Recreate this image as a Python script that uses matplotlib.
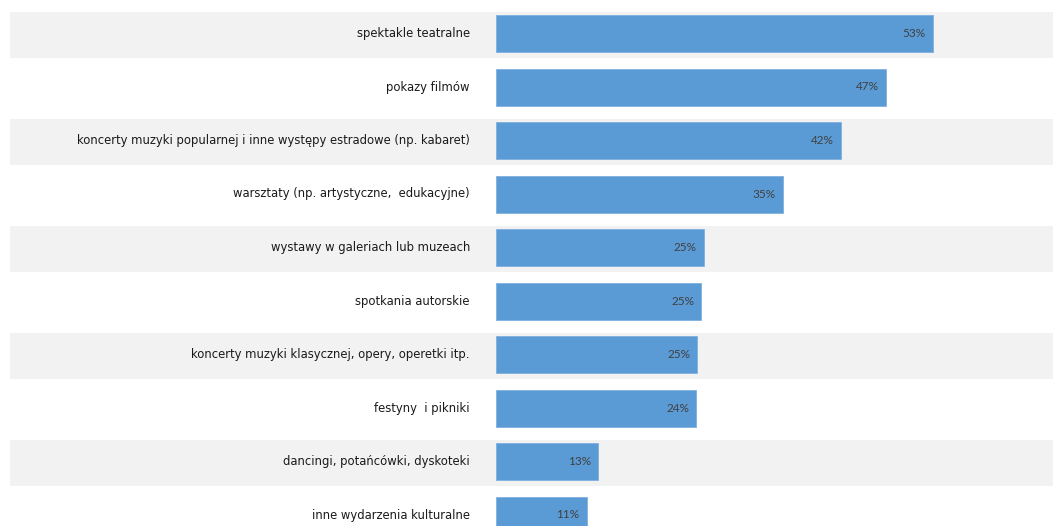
import matplotlib.pyplot as plt

# kategorie i wartości
kategorie = ["spektakle teatralne",
             "pokazy filmów",
             "koncerty muzyki popularnej i inne występy estradowe (np. kabaret)",
             "warsztaty (np. artystyczne,  edukacyjne)",
             "wystawy w galeriach lub muzeach",
             "spotkania autorskie",
             "koncerty muzyki klasycznej, opery, operetki itp.",
             "festyny  i pikniki",
             "dancingi, potańcówki, dyskoteki",
             "inne wydarzenia kulturalne"]
wartosci = [53, 47.3, 41.9, 34.8, 25.2, 24.9, 24.4, 24.3, 12.4, 11.0]
etykiety = ["53%", "47%", "42%", "35%", "25%", "25%", "25%", "24%", "13%", "11%"]

fig = plt.figure(figsize=(10.53, 5.26), dpi=100)
ax = fig.add_axes([0, 0, 1, 1])

px = 8.238  # pikseli na 1%
ax.set_xlim(-496 / px, (1053 - 496) / px)
ax.set_ylim((526 - 33.5) / 53.5, -33.5 / 53.5)

# naprzemienne szare pasy
for i in range(len(kategorie)):
    if i % 2 == 0:
        ax.axhspan(i - 23 / 53.5 + 0.03, i + 23 / 53.5 + 0.03, xmin=10 / 1053, xmax=1,
                   color="#f2f2f2", zorder=0, lw=0)

ax.barh(range(len(kategorie)), wartosci, height=37 / 53.5, color="#5b9bd5",
        edgecolor="#7fb0e0", linewidth=0.6, zorder=2)

for i, (k, w, e) in enumerate(zip(kategorie, wartosci, etykiety)):
    ax.text(-26 / px, i, k, ha="right", va="center", fontsize=9.3,
            family="DejaVu Sans", fontstretch="condensed", color="#1a1a1a")
    ax.annotate(e, (w, i), xytext=(-5, 0), textcoords="offset points",
                ha="right", va="center", fontsize=8.5, family="Lato",
                color="#404040", zorder=3)

ax.axis("off")
fig.savefig("out.png", dpi=100)
